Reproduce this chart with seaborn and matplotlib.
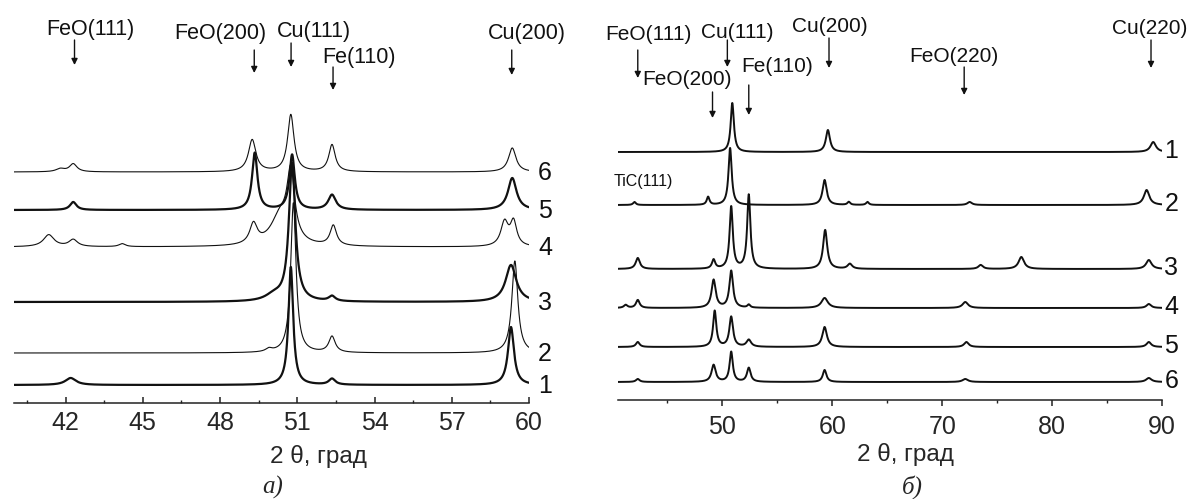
import numpy as np
import pandas as pd
import matplotlib
matplotlib.use("Agg")
import matplotlib.pyplot as plt
import seaborn as sns
from matplotlib.ticker import MultipleLocator, FixedLocator

# ---------------- data: panel a) ----------------
a_curve_ids = ["1", "2", "3", "4", "5", "6"]
a_offsets = [18, 50, 101, 156, 193, 231]
a_peak_pos = [
    [42.2, 50.75, 52.35, 59.3],
    [49.9, 50.85, 52.35, 59.45],
    [50.1, 50.8, 52.35, 59.3],
    [41.35, 42.3, 44.2, 49.3, 50.35, 50.75, 52.4, 59.05, 59.4],
    [42.3, 49.35, 50.8, 52.35, 59.35],
    [41.8, 42.3, 49.25, 50.75, 52.35, 59.35],
]
a_peak_height = [
    [7, 118, 6, 58],
    [3, 150, 16, 92],
    [6, 138, 5, 37],
    [12, 7, 3, 20, 30, 65, 20, 24, 24],
    [8, 57, 55, 15, 32],
    [3, 8, 32, 57, 27, 24],
]
a_peak_fwhm = [
    [0.5, 0.22, 0.3, 0.28],
    [0.3, 0.25, 0.3, 0.28],
    [0.8, 0.3, 0.3, 0.5],
    [0.5, 0.4, 0.3, 0.35, 0.9, 0.35, 0.3, 0.35, 0.3],
    [0.3, 0.25, 0.25, 0.35, 0.4],
    [0.4, 0.35, 0.35, 0.3, 0.3, 0.35],
]
a_refl_names = ["FeO(111)", "FeO(200)", "Cu(111)", "Fe(110)", "Cu(200)"]
a_refl_pos = [42.35, 49.33, 50.76, 52.39, 59.33]

# ---------------- data: panel б) ----------------
b_curve_ids = ["1", "2", "3", "4", "5", "6"]
b_offsets = [248, 195, 131, 92, 53, 18]
b_peak_pos = [
    [50.9, 59.6, 89.2],
    [42.0, 48.7, 50.7, 59.3, 61.5, 63.2, 72.5, 88.6],
    [42.3, 49.2, 50.8, 52.4, 59.35, 61.6, 73.5, 77.2, 88.8],
    [41.2, 42.3, 49.2, 50.8, 52.4, 59.3, 72.1, 88.8],
    [42.3, 49.3, 50.8, 52.4, 59.3, 72.2, 88.8],
    [42.3, 49.2, 50.8, 52.4, 59.3, 72.1, 88.8],
]
b_peak_height = [
    [49, 22, 10],
    [3, 8, 57, 25, 3, 3, 3, 15],
    [11, 9, 62, 74, 39, 5, 4, 12, 9],
    [3, 8, 28, 37, 3, 10, 6, 4],
    [5, 36, 30, 7, 20, 5, 5],
    [3, 17, 30, 14, 12, 3, 4],
]
b_peak_fwhm = [
    [0.35, 0.45, 0.6],
    [0.3, 0.3, 0.35, 0.45, 0.3, 0.3, 0.5, 0.6],
    [0.45, 0.35, 0.35, 0.35, 0.45, 0.5, 0.5, 0.6, 0.6],
    [0.4, 0.4, 0.45, 0.4, 0.3, 0.7, 0.6, 0.5],
    [0.4, 0.35, 0.4, 0.5, 0.5, 0.5, 0.5],
    [0.4, 0.45, 0.35, 0.4, 0.4, 0.6, 0.6],
]
b_refl_names = ["FeO(111)", "Cu(111)", "FeO(200)", "Fe(110)", "Cu(200)",
                "FeO(220)", "Cu(220)"]
b_refl_pos = [42.3, 50.45, 49.1, 52.4, 59.7, 72.0, 89.0]

a_ticks = [42, 45, 48, 51, 54, 57, 60]
b_ticks = [50, 60, 70, 80, 90]
x_label = "2 θ, град"
panel_titles = ["а)", "б)"]

# ---------------- layout (pixels of a 1189x499 canvas) ----------------
W, H = 1189, 499
sns.set_theme(style="white")
plt.rcParams["font.family"] = ["Liberation Sans", "DejaVu Sans"]

fig = plt.figure(figsize=(W / 100, H / 100), dpi=100)
fig.patch.set_facecolor("white")


def px_axes(x0, x1, ybottom):
    return fig.add_axes([x0 / W, 1 - ybottom / H, (x1 - x0) / W, ybottom / H])


axA = px_axes(14, 529, 403)
axB = px_axes(618, 1162, 400)
axA.set_xlim(40, 60)
axA.set_ylim(0, 403)
axB.set_xlim(40.5, 90)
axB.set_ylim(0, 400)


def profile(x, pos, hgt, fw):
    y = np.zeros_like(x)
    for c, h, w in zip(pos, hgt, fw):
        y += h / (1.0 + ((x - c) / (w / 2.0)) ** 2)
    return y


def draw_panel(ax, xgrid, ids, offs, pos, hgt, fw, widths):
    rows = []
    for cid, off, p, h, w in zip(ids, offs, pos, hgt, fw):
        y = off + profile(xgrid, p, h, w)
        rows.append(pd.DataFrame({"x": xgrid, "y": y, "curve": cid}))
    df = pd.concat(rows, ignore_index=True)
    for cid, lw in zip(ids, widths):
        sub = df[df["curve"] == cid]
        sns.lineplot(data=sub, x="x", y="y", ax=ax, color="#111111",
                     linewidth=lw, estimator=None, sort=False)


xa = np.linspace(40, 60, 3000)
xb = np.linspace(40.5, 90, 4000)
draw_panel(axA, xa, a_curve_ids, a_offsets, a_peak_pos, a_peak_height,
           a_peak_fwhm, [1.6, 0.8, 1.6, 0.8, 1.6, 0.8])
draw_panel(axB, xb, b_curve_ids, b_offsets, b_peak_pos, b_peak_height,
           b_peak_fwhm, [1.4] * 6)

# curve numbers
for cid, off in zip(a_curve_ids, a_offsets):
    axA.text(60.62, off - 1, cid, ha="center", va="center", fontsize=18,
             clip_on=False, color="#111111")
for cid, off in zip(b_curve_ids, b_offsets):
    axB.text(90.86, off + 1, cid, ha="center", va="center", fontsize=18,
             clip_on=False, color="#111111")

# axes styling
for ax, ticks, direction in ((axA, a_ticks, "in"), (axB, b_ticks, "out")):
    for s in ("left", "right", "top"):
        ax.spines[s].set_visible(False)
    ax.spines["bottom"].set_color("#222222")
    ax.spines["bottom"].set_linewidth(1.1)
    ax.set_yticks([])
    ax.set_xticks(ticks)
    ax.set_xticklabels([str(t) for t in ticks])
    ax.tick_params(axis="x", which="major", direction=direction, length=4.5,
                   width=1.1, color="#222222", labelsize=18, pad=6,
                   bottom=True)
    ax.tick_params(axis="x", which="minor", direction=direction, length=2.5,
                   width=1.0, color="#222222", bottom=True)
    ax.set_ylabel("")
    ax.set_facecolor("none")

axA.xaxis.set_minor_locator(FixedLocator([t - 1.5 for t in a_ticks]))
axB.xaxis.set_minor_locator(FixedLocator([t - 5 for t in b_ticks]))

axA.set_xlabel(x_label, fontsize=17.5)
axA.xaxis.set_label_coords((318 - 14) / 515, (403 - 457) / 403)
axA.xaxis.label.set_verticalalignment("center")
axB.set_xlabel(x_label, fontsize=17.5)
axB.xaxis.set_label_coords((905 - 618) / 544, (400 - 455) / 400)
axB.xaxis.label.set_verticalalignment("center")

fig.text(273 / W, 1 - 487 / H, panel_titles[0], ha="center", va="center",
         fontsize=18, family="Liberation Serif", style="italic")
fig.text(912 / W, 1 - 487 / H, panel_titles[1], ha="center", va="center",
         fontsize=18, family="Liberation Serif", style="italic")

# reflection annotations: text centre (px), arrow tail/tip y (px)
a_text_xy = [(90, 30), (220, 33), (314, 32), (359, 58), (527, 33)]
a_arrow_y = [(40, 65), (50, 73), (43, 67), (67, 90), (50, 75)]
b_text_xy = [(648, 35), (737, 32), (687, 80), (777, 67), (830, 27),
             (954, 57), (1150, 28)]
b_arrow_y = [(50, 78), (40, 67), (92, 118), (85, 115), (38, 68),
             (67, 95), (40, 68)]


def annotate(ax, axis_px, names, pos, text_xy, arrow_y, fs):
    for n, p, (tx, ty), (y0, y1) in zip(names, pos, text_xy, arrow_y):
        fig.text(tx / W, 1 - ty / H, n, ha="center", va="center",
                 fontsize=fs, color="#111111")
        ax.annotate("", xy=(p, axis_px - y1), xytext=(p, axis_px - y0),
                    xycoords="data", textcoords="data",
                    annotation_clip=False,
                    arrowprops=dict(arrowstyle="-|>", color="#111111",
                                    lw=1.0, mutation_scale=9,
                                    shrinkA=0, shrinkB=0))


annotate(axA, 403, a_refl_names, a_refl_pos, a_text_xy, a_arrow_y, 15.5)
annotate(axB, 400, b_refl_names, b_refl_pos, b_text_xy, b_arrow_y, 15)
fig.text(643 / W, 1 - 182 / H, "TiC(111)", ha="center", va="center",
         fontsize=11.5, color="#111111")

fig.savefig("out.png", dpi=100, facecolor="white")
